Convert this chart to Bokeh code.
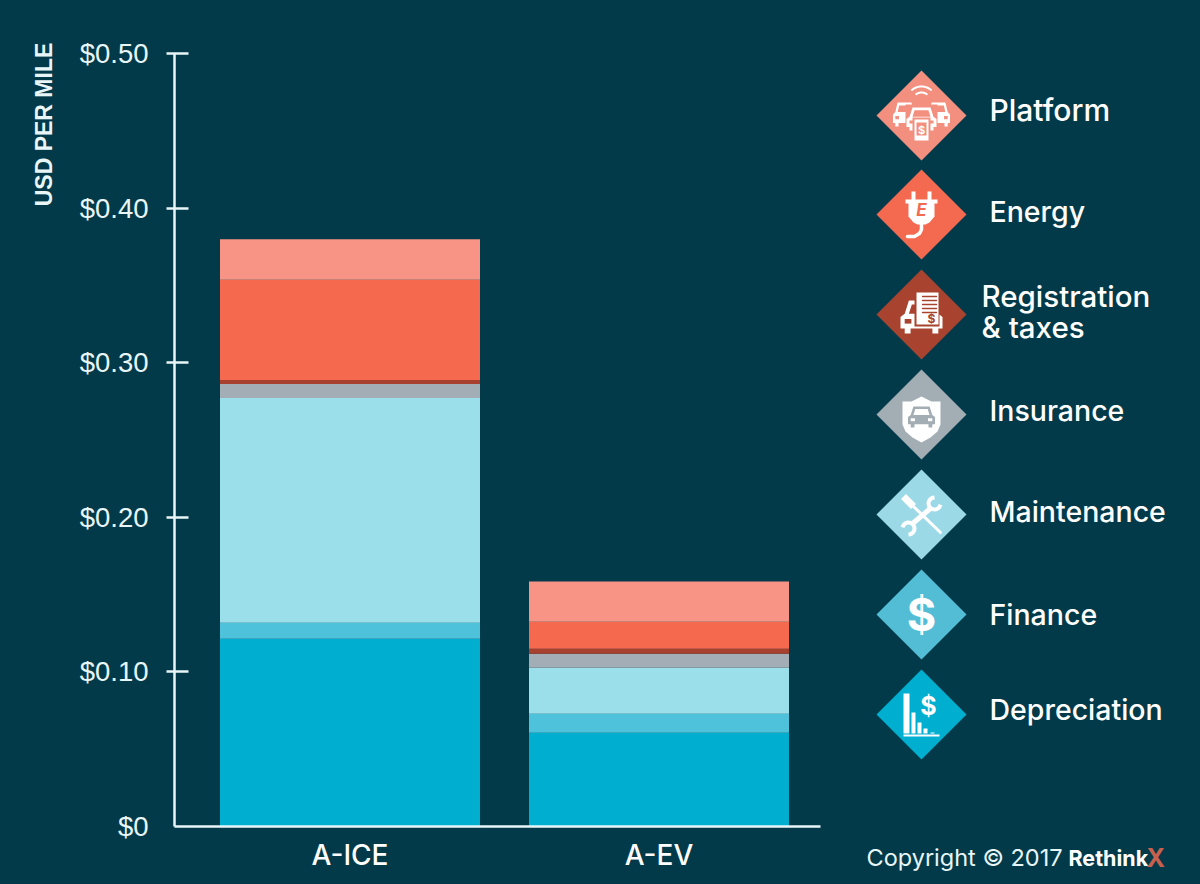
import numpy as np
from bokeh.plotting import figure, ColumnDataSource
from bokeh.models import Range1d, FixedTicker, Label, LinearAxis
from bokeh.embed import file_html
from bokeh.resources import INLINE

# ---------- data ----------
categories = ["A-ICE", "A-EV"]
positions = [0, 1]
depreciation = [0.1214, 0.0607]
finance = [0.0104, 0.0123]
maintenance = [0.1453, 0.0297]
insurance = [0.0091, 0.0091]
registration = [0.0026, 0.0032]
energy = [0.0648, 0.0174]
platform = [0.0262, 0.0260]
series_names = ["Depreciation", "Finance", "Maintenance", "Insurance",
                "Registration", "Energy", "Platform"]
series_colors = ["#00AFD0", "#4EC1DB", "#9BDFEB", "#A3ADB5",
                 "#A8402F", "#F5694E", "#F79485"]
y_ticks = [0.1, 0.2, 0.3, 0.4, 0.5]
y_labels = ["$0.10", "$0.20", "$0.30", "$0.40", "$0.50"]
zero_tick = [0]
zero_label = ["$0"]
legend_names = ["Platform", "Energy", "Registration\n& taxes", "Insurance",
                "Maintenance", "Finance", "Depreciation"]
legend_colors = ["#F28F7E", "#F36A50", "#A8432F", "#A3ADB4",
                 "#9CD9E6", "#53BDD6", "#00AECF"]

# ---------- layout ----------
BG = "#033A4A"
FG = "#E8F6F8"
W, H = 1200, 884
UNIT_X = 309.0
UNIT_Y = 1546.0
X0, Y0 = 349.5, 826.0
AX_L, AX_R = 174.0, 820.0
FONT = "Inter Medium"


def dx(px):
    return (px - X0) / UNIT_X


def dy(py):
    return (Y0 - py) / UNIT_Y


p = figure(width=W, height=H, output_backend="svg", toolbar_location=None,
           x_range=Range1d(dx(0), dx(W)),
           y_range=Range1d(dy(H), dy(0)),
           background_fill_color=BG, border_fill_color=BG, min_border=0,
           outline_line_color=None)
p.extra_x_ranges["px"] = Range1d(0, W)
p.extra_y_ranges["px"] = Range1d(H, 0)
p.grid.visible = False

source = ColumnDataSource(dict(x=positions, Depreciation=depreciation, Finance=finance,
                               Maintenance=maintenance, Insurance=insurance,
                               Registration=registration, Energy=energy, Platform=platform))
p.vbar_stack(series_names, x="x", width=260 / UNIT_X, color=series_colors,
             line_color=None, source=source)

# axes
xa = p.xaxis[0]
xa.fixed_location = 0
xa.bounds = (dx(AX_L), dx(AX_R))
xa.ticker = FixedTicker(ticks=positions)
xa.major_label_overrides = dict(zip(positions, categories))
xa.major_tick_line_color = None
xa.minor_tick_line_color = None
xa.axis_line_color = FG
xa.axis_line_width = 2.5
xa.major_label_standoff = 5
xa.major_label_text_color = "#FFFFFF"
xa.major_label_text_font = FONT
xa.major_label_text_font_size = "28px"


def style_y(ax):
    ax.fixed_location = dx(AX_L)
    ax.minor_tick_line_color = None
    ax.major_label_standoff = 18
    ax.major_label_text_color = FG
    ax.major_label_text_font = "Liberation Sans"
    ax.major_label_text_font_size = "27.5px"


ya = p.yaxis[0]
style_y(ya)
ya.bounds = (0, 0.5)
ya.ticker = FixedTicker(ticks=y_ticks)
ya.major_label_overrides = dict(zip(y_ticks, y_labels))
ya.axis_line_color = FG
ya.axis_line_width = 2.5
ya.major_tick_line_color = FG
ya.major_tick_line_width = 2.5
ya.major_tick_in = 14
ya.major_tick_out = 8

# the zero label has no tick mark in the reference
yz = LinearAxis(ticker=FixedTicker(ticks=zero_tick),
                major_label_overrides=dict(zip(zero_tick, zero_label)))
p.add_layout(yz, "left")
style_y(yz)
yz.bounds = (0, 0.5)
yz.axis_line_color = None
yz.major_tick_line_color = None
yz.major_tick_in = 0
yz.major_tick_out = 8

PX = dict(x_range_name="px", y_range_name="px")


def label(x, y, text, size, color="#FFFFFF", font=FONT, style="normal",
          align="left", angle=0.0, baseline="middle"):
    p.add_layout(Label(x=x, y=y, text=text, text_color=color, text_font=font,
                       text_font_size=f"{size}px", text_font_style=style,
                       text_align=align, text_baseline=baseline, angle=angle, **PX))


label(43, 124, "USD PER MILE", 23, FG, "Liberation Sans", "bold", align="center", angle=np.pi / 2)

# ---------- legend ----------
cx = 921.0
cys = [115.0, 214.0, 314.0, 414.0, 514.0, 614.0, 714.0]
R = 45.0
p.patches([[cx - R, cx, cx + R, cx] for _ in cys],
          [[c, c - R, c, c + R] for c in cys],
          fill_color=legend_colors, line_color=None, **PX)

legend_text_y = [109, 211, (295, 326), 410, 511, 614, 709]
legend_text_size = [30, 28.5, 29.5, 28.5, 28.5, 28.5, 28.5]
for name, ty, fs in zip(legend_names, legend_text_y, legend_text_size):
    if "\n" in name:
        for part, yy in zip(name.split("\n"), ty):
            label(981, yy, part, fs)
    else:
        label(989, ty, name, fs)


# ---------- icons (white pictograms inside the diamonds) ----------
def poly(xs, ys, color="#FFFFFF"):
    p.patch(xs, ys, fill_color=color, line_color=None, **PX)


def rect(x0, y0, x1, y1, color="#FFFFFF"):
    poly([x0, x1, x1, x0], [y0, y0, y1, y1], color)


def stroke(xs, ys, w=2.0, color="#FFFFFF", cap="round"):
    p.line(xs, ys, line_color=color, line_width=w, line_cap=cap, **PX)


def arc(x, y, r, a0, a1, w=2.0, color="#FFFFFF", cap="round"):
    t = np.radians(np.linspace(a0, a1, 18))
    stroke(x + r * np.cos(t), y - r * np.sin(t), w, color, cap)


def car(x, y, w, h, color, cut):
    """Front view of a car, centred on x, top at y."""
    u, v = w / 10.0, h / 10.0
    poly([x - 3 * u, x + 3 * u, x + 4 * u, x + 5 * u, x + 5 * u, x + 4 * u, x + 4 * u, x + 2.6 * u,
          x + 2.6 * u, x - 2.6 * u, x - 2.6 * u, x - 4 * u, x - 4 * u, x - 5 * u, x - 5 * u, x - 4 * u],
         [y, y, y + 4 * v, y + 5 * v, y + 8.5 * v, y + 8.5 * v, y + 10 * v, y + 10 * v,
          y + 8.5 * v, y + 8.5 * v, y + 10 * v, y + 10 * v, y + 8.5 * v, y + 8.5 * v, y + 5 * v, y + 4 * v],
         color)
    poly([x - 2.3 * u, x + 2.3 * u, x + 3 * u, x - 3 * u],
         [y + 1.2 * v, y + 1.2 * v, y + 4 * v, y + 4 * v], cut)
    rect(x - 4 * u, y + 5.6 * v, x - 2.4 * u, y + 7 * v, cut)
    rect(x + 2.4 * u, y + 5.6 * v, x + 4 * u, y + 7 * v, cut)


# platform
C = legend_colors[0]
arc(921, 101, 15, 50, 130, 2)
arc(921, 101, 9, 55, 125, 2)
car(904, 102, 23, 24, "#FFFFFF", C)
car(938, 102, 23, 24, "#FFFFFF", C)
rect(905, 104, 937, 132, C)
car(921, 107, 30, 23, "#FFFFFF", C)
rect(912, 117, 930, 141, C)
rect(914, 119, 928, 140)
rect(916, 122, 926, 135, C)
label(921, 129, "$", 11, "#FFFFFF", "Inter", "bold", "center")

# energy
C = legend_colors[1]
rect(911, 191, 915, 201)
rect(927, 191, 931, 201)
rect(905, 199, 937, 203)
poly([908, 934, 934, 929, 925, 917, 913, 908], [201, 201, 216, 222, 224, 224, 222, 216])
stroke([921, 921, 919, 914, 907], [222, 229, 233, 236, 236], 3.5)
label(921, 209, "E", 17, C, "Inter", "bold italic", "center")

# registration & taxes
C = legend_colors[2]
car(921, 300, 42, 33, "#FFFFFF", C)
rect(914, 290, 939, 326, C)
rect(916, 292, 938, 324)
for yy in (296, 300, 304, 308, 312):
    stroke([922, 936], [yy, yy], 1.4, C)
label(931, 318, "$", 12, C, "Inter", "bold", "center")

# insurance
C = legend_colors[3]
poly([921, 931, 940, 940, 937, 930, 921, 912, 905, 902, 902, 911],
     [396, 401, 401, 424, 431, 437, 442, 437, 431, 424, 401, 401])
car(921, 406, 27, 21, C, "#FFFFFF")

# maintenance: screwdriver under an open-ended wrench
stroke([913, 940], [506, 532], 3)
stroke([903, 913], [496, 506], 7, cap="butt")
stroke([911, 931], [524, 507], 5, cap="butt")
arc(934, 503, 6, 90, 350, 4, cap="butt")
arc(908, 528, 6, 270, 530, 4, cap="butt")

# finance
label(921, 614, "$", 45, "#FFFFFF", "Inter", "bold", "center")

# depreciation
for x0, x1, top in [(903, 909, 693), (911, 915, 712), (917, 921, 722),
                    (923, 927, 728), (930, 934, 732)]:
    rect(x0, top, x1, 733)
rect(903, 734, 939, 736)
label(928, 705, "$", 25, "#FFFFFF", "Inter", "bold", "center")

# ---------- copyright ----------
label(866, 857, "Copyright © 2017", 23.5, FG, "Inter")
label(1068, 857, "Rethink", 21.5, "#FFFFFF", "Inter", "bold")
label(1146, 857, "X", 25, "#C8604E", "Inter", "bold")

style = f"<style>html,body{{background:{BG};}}</style></head>"
open("out.html", "w").write(file_html(p, INLINE).replace("</head>", style, 1))
